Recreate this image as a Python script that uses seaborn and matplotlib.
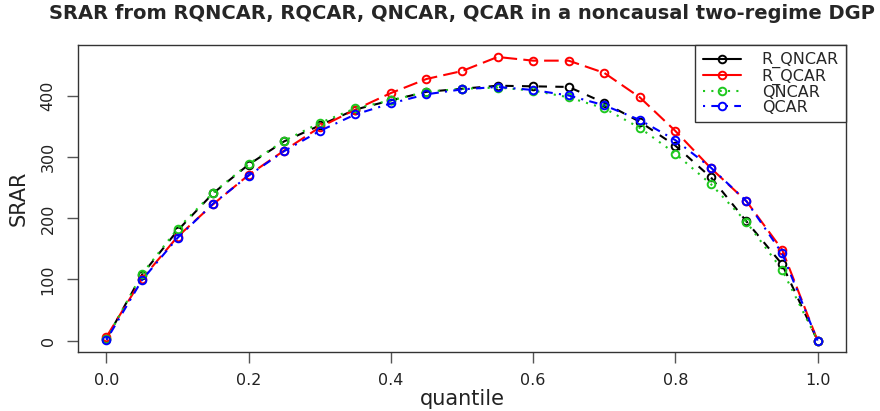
import matplotlib
matplotlib.use("Agg")
import matplotlib.pyplot as plt
from matplotlib.lines import Line2D
import seaborn as sns
import pandas as pd

# Quantile levels and SRAR values for each estimator
quantiles = [0.00, 0.05, 0.10, 0.15, 0.20, 0.25, 0.30, 0.35, 0.40, 0.45, 0.50,
             0.55, 0.60, 0.65, 0.70, 0.75, 0.80, 0.85, 0.90, 0.95, 1.00]
r_qncar = [3, 108, 180, 241, 288, 326, 352, 378, 393, 407, 412,
           417, 416, 415, 389, 358, 319, 267, 195, 125, 0]
r_qcar = [6, 101, 170, 223, 271, 311, 349, 378, 405, 428, 441,
          464, 458, 458, 438, 398, 343, 282, 228, 149, 0]
qncar = [2, 109, 183, 242, 289, 327, 356, 380, 393, 407, 412,
         414, 409, 398, 380, 348, 306, 256, 194, 116, 0]
qcar = [1, 99, 168, 224, 270, 310, 343, 370, 388, 403, 411,
        415, 410, 401, 385, 361, 328, 283, 228, 143, 0]

series_names = ["R_QNCAR", "R_QCAR", "QNCAR", "QCAR"]
series_values = [r_qncar, r_qcar, qncar, qcar]
x_ticks = [0.0, 0.2, 0.4, 0.6, 0.8, 1.0]
y_ticks = [0, 100, 200, 300, 400]

colors = ["black", "#FF0000", "#1EC81E", "#0000FF"]
line_styles = [(0, (4, 4)), (0, (7, 3)), (0, (1, 3)), (0, (1, 3, 4, 3))]
legend_styles = ["-", "-", (0, (1, 3)), (0, (1, 3, 4, 3))]

sns.set_theme(style="ticks")
plt.rcParams["font.family"] = ["DejaVu Sans"]

fig = plt.figure(figsize=(8.8, 4.11), dpi=100)
ax = fig.add_axes([0.0886, 0.1436, 0.8728, 0.7469])

for name, vals, col, ls in zip(series_names, series_values, colors, line_styles):
    df = pd.DataFrame({"quantile": quantiles, "SRAR": vals})
    sns.lineplot(data=df, x="quantile", y="SRAR", ax=ax, color=col,
                 linestyle=ls, linewidth=1.5, marker="o", markersize=5.5,
                 markerfacecolor="none", markeredgecolor=col,
                 markeredgewidth=1.4, legend=False)

ax.set_xlim(-0.04, 1.04)
ax.set_ylim(-18.6, 483.6)
ax.set_xticks(x_ticks)
ax.set_xticklabels([f"{t:.1f}" for t in x_ticks])
ax.set_yticks(y_ticks)
ax.set_yticklabels([str(t) for t in y_ticks], rotation=90, va="center")

for side in ["left", "right", "top", "bottom"]:
    ax.spines[side].set_visible(True)
    ax.spines[side].set_color("#333333")
    ax.spines[side].set_linewidth(1.0)

ax.tick_params(axis="both", direction="out", length=8, width=1.0,
               color="#555555", labelsize=11.5, labelcolor="#222222")
ax.tick_params(axis="x", pad=7)
ax.tick_params(axis="y", pad=8)

ax.set_xlabel("quantile", fontsize=15, color="#222222", labelpad=1)
ax.set_ylabel("SRAR", fontsize=15, color="#222222", labelpad=9)
ax.set_title("SRAR from RQNCAR, RQCAR, QNCAR, QCAR in a noncausal two-regime DGP",
             fontsize=14, fontweight="bold", pad=19)

handles = [Line2D([0], [0], color=c, linestyle=ls, linewidth=1.5, marker="o",
                  markersize=5.5, markerfacecolor="none", markeredgecolor=c,
                  markeredgewidth=1.4)
           for c, ls in zip(colors, legend_styles)]
leg = ax.legend(handles, series_names, loc="upper right", fontsize=11.5,
                frameon=True, fancybox=False, framealpha=1, edgecolor="#333333",
                borderaxespad=0, handlelength=2.4, labelspacing=0.0,
                handletextpad=1.3, borderpad=0.45)
leg.get_frame().set_linewidth(1.0)

ax.grid(False)
fig.savefig("out.png", dpi=100)
